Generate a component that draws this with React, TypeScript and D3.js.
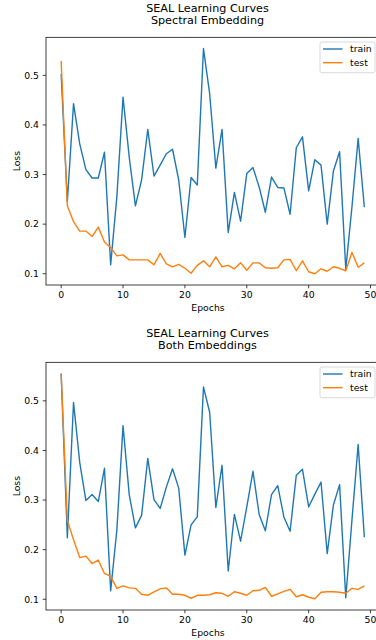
import React from 'react'
import * as d3 from 'd3'

// epochs 0..49
const epochs = d3.range(50)

// Spectral Embedding run
const spectralTrain = [
  0.503, 0.245, 0.443, 0.362, 0.31, 0.293, 0.293, 0.345, 0.118, 0.255,
  0.456, 0.335, 0.237, 0.289, 0.391, 0.297, 0.319, 0.342, 0.351, 0.289,
  0.173, 0.294, 0.279, 0.554, 0.463, 0.313, 0.391, 0.183, 0.264, 0.206,
  0.302, 0.314, 0.275, 0.224, 0.295, 0.274, 0.273, 0.22, 0.354, 0.376,
  0.267, 0.33, 0.319, 0.2, 0.307, 0.346, 0.109, 0.235, 0.373, 0.234,
]
const spectralTest = [
  0.529, 0.237, 0.205, 0.186, 0.186, 0.175, 0.194, 0.164, 0.153, 0.136,
  0.138, 0.128, 0.128, 0.128, 0.128, 0.118, 0.141, 0.12, 0.114, 0.119,
  0.111, 0.101, 0.117, 0.126, 0.114, 0.134, 0.114, 0.117, 0.11, 0.122,
  0.107, 0.122, 0.122, 0.112, 0.111, 0.112, 0.128, 0.129, 0.106, 0.126,
  0.104, 0.1, 0.11, 0.105, 0.114, 0.111, 0.106, 0.143, 0.113, 0.122,
]

// Both Embeddings run
const bothTrain = [
  0.555, 0.224, 0.497, 0.376, 0.299, 0.311, 0.297, 0.364, 0.117, 0.239,
  0.45, 0.311, 0.244, 0.269, 0.384, 0.301, 0.283, 0.326, 0.363, 0.324,
  0.189, 0.25, 0.266, 0.528, 0.477, 0.285, 0.37, 0.157, 0.271, 0.217,
  0.286, 0.358, 0.271, 0.238, 0.311, 0.329, 0.266, 0.237, 0.35, 0.362,
  0.286, 0.312, 0.336, 0.192, 0.29, 0.331, 0.103, 0.26, 0.412, 0.225,
]
const bothTest = [
  0.553, 0.259, 0.22, 0.184, 0.187, 0.172, 0.179, 0.152, 0.146, 0.122,
  0.127, 0.123, 0.122, 0.11, 0.108, 0.115, 0.121, 0.123, 0.11, 0.11,
  0.108, 0.102, 0.108, 0.108, 0.109, 0.113, 0.112, 0.106, 0.115, 0.112,
  0.108, 0.117, 0.118, 0.124, 0.106, 0.111, 0.116, 0.12, 0.105, 0.109,
  0.104, 0.101, 0.114, 0.115, 0.115, 0.114, 0.112, 0.122, 0.12, 0.127,
]

const xTicks = [0, 10, 20, 30, 40, 50]
const yTicks = [0.1, 0.2, 0.3, 0.4, 0.5]
const seriesNames = ['train', 'test']

const colors = ['#1f77b4', '#ff7f0e']
const font = 'DejaVu Sans, sans-serif'

const Panel = ({ subtitle, train, test, top, bottom }) => {
  const left = 46,
    right = 379.5

  // matplotlib style 5% margins
  const x = d3
    .scaleLinear()
    .domain([-2.45, 51.45])
    .range([left, right])

  const [lo, hi] = d3.extent(train.concat(test))
  const pad = (hi - lo) * 0.05
  const y = d3
    .scaleLinear()
    .domain([lo - pad, hi + pad])
    .range([bottom, top])

  const line = d3
    .line()
    .x((d, i) => x(epochs[i]))
    .y(d => y(d))

  const titleX = 207.5

  return (
    <g>
      <text x={titleX} y={top - 25} textAnchor="middle" fontSize={11.2}>
        SEAL Learning Curves
      </text>
      <text x={titleX} y={top - 13.3} textAnchor="middle" fontSize={11.2}>
        {subtitle}
      </text>

      <path d={line(train)} fill="none" stroke={colors[0]} strokeWidth={1.4} strokeLinejoin="round" />
      <path d={line(test)} fill="none" stroke={colors[1]} strokeWidth={1.4} strokeLinejoin="round" />

      {/* frame */}
      <rect x={left} y={top} width={right - left} height={bottom - top} fill="none" stroke="#000" strokeWidth={0.75} />

      {/* x axis */}
      {xTicks.map(d => (
        <g key={d} transform={`translate(${x(d)}, ${bottom})`}>
          <line y2={3.3} stroke="#000" strokeWidth={0.75} />
          <text y={13.4} textAnchor="middle" fontSize={9.3}>
            {d}
          </text>
        </g>
      ))}
      <text x={titleX + 0.5} y={bottom + 25.5} textAnchor="middle" fontSize={9.3}>
        Epochs
      </text>

      {/* y axis */}
      {yTicks.map(d => (
        <g key={d} transform={`translate(${left}, ${y(d)})`}>
          <line x2={-3.3} stroke="#000" strokeWidth={0.75} />
          <text x={-7} dy="0.35em" textAnchor="end" fontSize={9.3}>
            {d.toFixed(1)}
          </text>
        </g>
      ))}
      <text
        transform={`translate(19.5, ${(top + bottom) / 2}) rotate(-90)`}
        textAnchor="middle"
        fontSize={9.3}
      >
        Loss
      </text>

      {/* legend */}
      <g transform={`translate(320, ${top + 4.7})`}>
        <rect width={55} height={30.7} rx={2} fill="#fff" fillOpacity={0.8} stroke="#ccc" strokeWidth={0.75} />
        {seriesNames.map((s, i) => (
          <g key={s} transform={`translate(0, ${7 + i * 13.7})`}>
            <line x1={3} x2={22.5} stroke={colors[i]} strokeWidth={1.4} />
            <text x={30} dy="0.35em" fontSize={9.3}>
              {s}
            </text>
          </g>
        ))}
      </g>
    </g>
  )
}

export default function App() {
  return (
    <svg
      width={376}
      height={640}
      style={{ position: 'absolute', left: 0, top: 0, background: '#fff' }}
      fontFamily={font}
      fill="#000"
    >
      <Panel subtitle="Spectral Embedding" train={spectralTrain} test={spectralTest} top={37.3} bottom={285} />
      <Panel subtitle="Both Embeddings" train={bothTrain} test={bothTest} top={362.3} bottom={610} />
    </svg>
  )
}
